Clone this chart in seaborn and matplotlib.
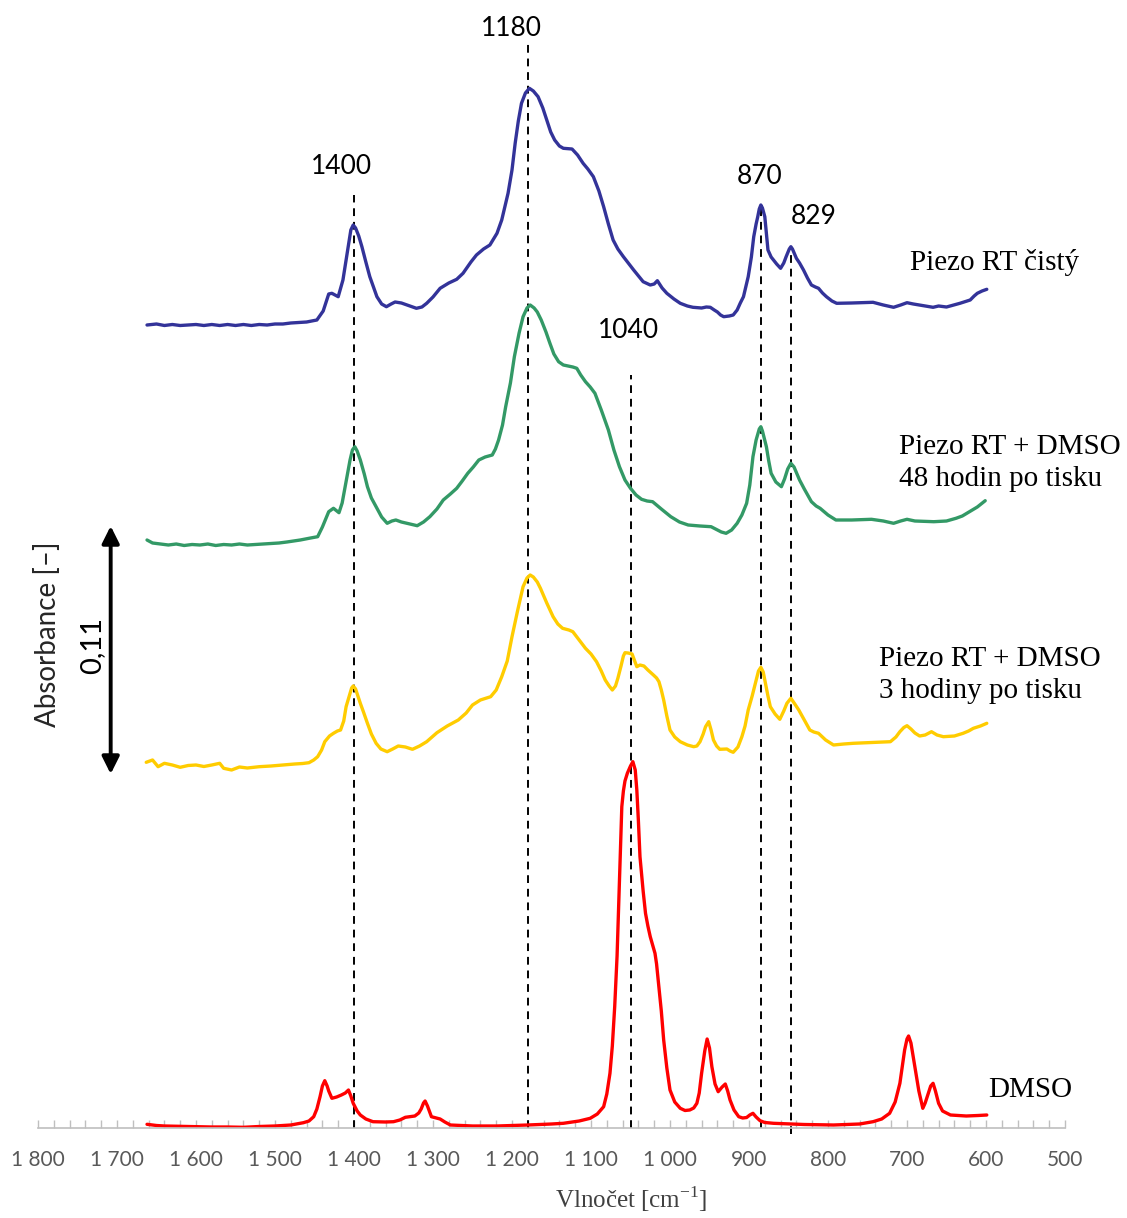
import numpy as np
import pandas as pd
import matplotlib
matplotlib.use("Agg")
import matplotlib.pyplot as plt
import seaborn as sns

# heights, in plot units (scale bar 0,11 = 240 units)
UNIT = 0.11 / 240

blue_wn = [
    1662, 1650, 1640, 1630, 1620, 1610, 1600, 1590, 1580, 1570,
    1560, 1550, 1540, 1530, 1520, 1510, 1500, 1490, 1480, 1470,
    1460, 1447, 1439, 1432, 1428, 1420, 1414, 1407, 1404, 1401,
    1398, 1394, 1390, 1385, 1380, 1371, 1365, 1359, 1353, 1348,
    1340, 1333, 1321, 1314, 1308, 1300, 1291, 1280, 1270, 1262,
    1252, 1245, 1236, 1228, 1219, 1213, 1205, 1200, 1196, 1192,
    1188, 1183, 1178, 1173, 1167, 1161, 1156, 1151, 1146, 1140,
    1135, 1124, 1117, 1110, 1104, 1097, 1090, 1084, 1078, 1072,
    1066, 1059, 1046, 1034, 1025, 1020, 1016, 1010, 1004, 995,
    987, 978, 971, 960, 954, 949, 944, 940, 936, 932,
    925, 920, 915, 911, 907, 901, 897, 894, 891, 889,
    887, 885, 883, 880, 878, 876, 872, 869, 865, 860,
    856, 853, 849, 847, 845, 840, 836, 831, 826, 821,
    816, 812, 807, 802, 795, 789, 770, 743, 730, 717,
    708, 700, 692, 684, 667, 660, 650, 633, 620, 615,
    611, 605, 599]
blue_h = [
    0, 1, -0.5, 0.5, -0.5, 0, 0.5, -0.5, 0.5, -0.5,
    0.5, -0.5, 0.5, -0.5, 0.5, 0, 1, 1, 2, 2.5,
    3, 5, 14, 31, 31.7, 28.3, 45, 80, 95, 100,
    97, 89, 78.3, 63, 48.3, 28.3, 21, 18.3, 21, 23,
    22, 20, 16.7, 18, 21.7, 28, 36.7, 42, 45.7, 51.7,
    63, 70, 76, 80, 91.7, 105, 131.7, 155, 181.7, 204,
    221.7, 232, 236.7, 234, 228.3, 217, 205, 193, 185, 179,
    176.7, 176, 170, 161.7, 156, 148.3, 134, 118.3, 101, 85,
    76, 68.3, 55, 43.3, 40, 41, 44.3, 37, 31.7, 26,
    21.7, 19, 17.7, 17, 18, 17.7, 15, 13, 10, 8.3,
    9, 10, 15, 22, 28.3, 48.3, 68, 88.3, 101, 108,
    116, 120, 117, 108.3, 92, 75, 68, 65, 61, 56.7,
    62, 68.3, 76, 78.3, 76, 66.7, 62, 55, 47, 40,
    38, 36.7, 32, 28.3, 24, 21.7, 22, 22.7, 20, 17.7,
    20, 22.3, 21, 20, 17.7, 19, 18, 21.7, 25, 29,
    31.7, 34, 35.7]

green_wn = [
    1662, 1655, 1645, 1635, 1625, 1615, 1605, 1595, 1585, 1575,
    1565, 1555, 1545, 1535, 1525, 1515, 1505, 1495, 1485, 1468,
    1455, 1446, 1440, 1432, 1426, 1419, 1415, 1412, 1408, 1405,
    1402, 1399, 1396, 1392, 1387, 1383, 1378, 1372, 1365, 1358,
    1352, 1347, 1340, 1333, 1320, 1312, 1304, 1295, 1287, 1278,
    1270, 1263, 1256, 1249, 1242, 1234, 1225, 1221, 1217, 1212,
    1208, 1202, 1197, 1191, 1186, 1181, 1177, 1172, 1168, 1163,
    1157, 1152, 1147, 1141, 1135, 1129, 1123, 1118, 1113, 1107,
    1101, 1095, 1087, 1078, 1071, 1064, 1057, 1050, 1043, 1036,
    1029, 1022, 1011, 999, 988, 977, 962, 948, 940, 935,
    929, 922, 915, 909, 903, 899, 895, 891, 887, 885,
    883, 878, 875, 872, 866, 859, 855, 851, 847, 843,
    836, 830, 821, 815, 810, 800, 790, 770, 745, 730,
    717, 708, 700, 690, 666, 650, 638, 630, 621, 611,
    601]
green_h = [
    5, 2, 1, 0, 1, -0.5, 0.5, 0, 1, -0.5,
    0.5, 0, 1, 0, 0.5, 1, 1.5, 2, 3, 5,
    7, 8.3, 18, 33.3, 36.7, 32.3, 42, 55, 72, 85,
    95, 98.3, 94, 85, 71, 58.3, 47, 38.3, 28, 21.7,
    24, 25, 23, 21.7, 19.3, 23, 28.3, 36, 45, 51,
    56.7, 64, 71.7, 78, 85, 88, 90, 96, 105, 120,
    138.3, 162, 188.3, 212, 228.3, 237, 240, 237, 233, 225,
    213, 201.7, 191, 183.3, 180, 179, 178, 176.7, 170, 163.3,
    158, 151.7, 135, 115, 95, 78.3, 65, 56.7, 50, 45.7,
    44, 43.3, 36, 28.3, 23, 20, 19, 18.3, 15, 13,
    11.7, 15, 21.7, 30, 41.7, 60, 88.3, 105, 116, 118.3,
    114, 98.3, 84, 71.7, 63, 58.3, 66, 76, 81.7, 78,
    65, 56, 43.3, 39, 36.7, 30, 25, 25, 25.7, 24,
    21.7, 24, 25.7, 24, 23.3, 24, 26.7, 29, 33.3, 38,
    44.3]

yellow_wn = [
    1663, 1655, 1648, 1640, 1630, 1620, 1610, 1600, 1590, 1580,
    1570, 1565, 1555, 1545, 1535, 1520, 1505, 1490, 1475, 1465,
    1457, 1451, 1446, 1441, 1437, 1431, 1426, 1421, 1417, 1413,
    1410, 1406, 1403, 1401, 1398, 1395, 1392, 1388, 1383, 1378,
    1372, 1366, 1358, 1351, 1344, 1335, 1326, 1317, 1308, 1295,
    1282, 1268, 1258, 1250, 1240, 1227, 1220, 1213, 1206, 1200,
    1193, 1186, 1181, 1177, 1173, 1168, 1164, 1156, 1148, 1142,
    1136, 1128, 1123, 1115, 1107, 1100, 1093, 1087, 1082, 1077,
    1073, 1069, 1066, 1062, 1059, 1057, 1053, 1048, 1042, 1038,
    1033, 1028, 1021, 1017, 1014, 1011, 1008, 1004, 1000, 994,
    987, 978, 970, 966, 962, 958, 955, 951, 948, 945,
    941, 937, 928, 924, 920, 914, 909, 905, 901, 896,
    892, 888, 885, 882, 880, 876, 873, 867, 861, 856,
    852, 847, 842, 837, 830, 823, 818, 812, 803, 793,
    780, 768, 745, 721, 714, 709, 704, 700, 695, 690,
    684, 677, 669, 662, 654, 640, 629, 622, 616, 607,
    599]
yellow_h = [
    3.7, 6, -0.7, 2.7, 1, -1.3, 0.5, 1, -0.5, 1,
    2.7, -2.3, -4, -1, -2, -0.7, 0, 1, 2, 2.5,
    3.3, 6, 9.3, 16, 24.3, 30, 32.7, 35, 36, 45,
    59.3, 70, 78, 80, 77, 70, 62.7, 54, 42.7, 32,
    22.7, 17, 14.3, 17, 20, 19, 16.7, 20, 24.3, 33.3,
    40, 46, 53, 61, 66, 69.3, 76, 89.3, 105, 129.3,
    155, 179.3, 188, 191, 189, 184, 177.7, 163, 149.3, 142,
    137.7, 136, 134.3, 126, 117.7, 112, 104.3, 95, 86, 80,
    76, 80, 87.7, 100, 110, 113.3, 113, 112, 99.3, 101,
    100, 96, 91, 88, 84.3, 76, 66, 50, 36, 29,
    24.3, 21, 19.3, 20, 24.3, 32, 39.3, 44.3, 36, 26,
    20, 16.7, 17, 15, 13.7, 19, 29.3, 40, 56, 70,
    82.7, 95, 98.7, 94, 86, 70, 59.3, 52, 46.7, 55,
    62.7, 67.7, 62, 56, 46, 36, 34, 32.7, 26, 21,
    22, 22.7, 23.5, 24.3, 29, 34.3, 38.5, 40.3, 37, 33,
    30, 31, 34.3, 31, 29.3, 30, 32.7, 35, 37.7, 40,
    42.7]

red_wn = [
    1662, 1650, 1640, 1620, 1600, 1580, 1560, 1540, 1520, 1500,
    1480, 1464, 1457, 1451, 1447, 1443, 1440, 1437, 1434, 1432,
    1428, 1422, 1416, 1411, 1407, 1404, 1401, 1396, 1392, 1385,
    1376, 1360, 1350, 1342, 1335, 1323, 1318, 1315, 1312, 1310,
    1307, 1302, 1296, 1291, 1285, 1278, 1250, 1219, 1180, 1150,
    1135, 1115, 1101, 1092, 1084, 1080, 1076, 1073, 1070, 1067,
    1065, 1063, 1061, 1059, 1057, 1054, 1050, 1047, 1044, 1042,
    1040, 1038, 1034, 1031, 1028, 1025, 1022, 1019, 1017, 1015,
    1011, 1008, 1004, 1000, 994, 987, 981, 975, 970, 966,
    963, 960, 956, 953, 950, 947, 943, 939, 934, 930,
    927, 924, 919, 913, 908, 903, 899, 895, 891, 886,
    880, 869, 830, 793, 760, 743, 732, 722, 715, 709,
    705, 703, 700, 698, 695, 690, 685, 680, 677, 673,
    670, 667, 664, 660, 655, 645, 625, 610, 599]
red_h = [
    1.7, 0.5, 0, -0.5, -0.7, -1, -1, -1.3, -0.5, 0,
    1, 3.3, 5, 9.3, 17, 29.3, 40, 45.3, 40, 35,
    27.7, 29, 31, 33, 36, 30, 22.7, 15, 11, 7,
    4.3, 4, 4.3, 6, 8.7, 10, 13, 17, 23, 25,
    20, 9.3, 8, 7, 4, 1, 0, 0, 1, 2,
    2.7, 5, 7.7, 12, 19.3, 32, 52.7, 80, 119.3, 170,
    219.3, 270, 319.3, 335, 345, 352.7, 360, 364.3, 356, 336,
    305, 269.3, 235, 212.7, 200, 189.3, 181, 172.7, 162, 146,
    115, 86, 58, 36, 24, 17.7, 15.5, 16, 18, 22.7,
    33, 52.7, 75, 87, 78, 59.3, 42, 34.3, 39, 42,
    35, 26, 16, 9.3, 8, 8.5, 11, 12.7, 9, 5.3,
    3.5, 2.7, 1.5, 1, 2, 4.3, 7, 12.7, 24, 42.7,
    65, 76, 87, 90, 83, 59.3, 35, 17.7, 23, 32.7,
    40, 42.7, 35, 22.7, 15, 11, 10, 10.5, 11]

series_names = ["Piezo RT čistý", "Piezo RT + DMSO\n48 hodin po tisku",
                "Piezo RT + DMSO\n3 hodiny po tisku", "DMSO"]
series_offsets = [801, 581, 360, 0]
series_colors = ["#333399", "#339966", "#FFCC00", "#FF0000"]

# dashed marker lines: position, top end (plot units)
peak_lines = [1400, 1180, 1049, 885, 847]
peak_line_tops = [931, 1086, 751, 921, 876]
peak_labels = ["1400", "1180", "1040", "870", "829"]

tick_values = [1800, 1700, 1600, 1500, 1400, 1300, 1200, 1100, 1000, 900, 800, 700, 600, 500]
tick_labels = ["1 800", "1 700", "1 600", "1 500", "1 400", "1 300", "1 200", "1 100",
               "1 000", "900", "800", "700", "600", "500"]

sns.set_theme(style="white")
plt.rcParams["font.family"] = ["Lato", "DejaVu Sans"]
plt.rcParams["mathtext.fontset"] = "custom"
plt.rcParams["mathtext.rm"] = "Liberation Serif"

frames = []
for name, wn, h, off in zip(series_names,
                            [blue_wn, green_wn, yellow_wn, red_wn],
                            [blue_h, green_h, yellow_h, red_h],
                            series_offsets):
    frames.append(pd.DataFrame({"wn": wn,
                                "A": (np.array(h) + off) * UNIT,
                                "series": name}))
df = pd.concat(frames, ignore_index=True)

fig = plt.figure(figsize=(11.27, 12.18), dpi=100)
ax = fig.add_axes([38 / 1127, 90 / 1218, 1027 / 1127, 1128 / 1218])

sns.lineplot(data=df, x="wn", y="A", hue="series", hue_order=series_names,
             palette=series_colors, estimator=None, legend=False, ax=ax,
             linewidth=2.4, solid_joinstyle="round", solid_capstyle="round")

ax.set_xlim(1800, 500)
ax.set_ylim(-2 * UNIT, 1126 * UNIT)

# dashed peak markers
for wn, top in zip(peak_lines, peak_line_tops):
    bottom = -8 if wn == 847 else -2
    ax.plot([wn, wn], [bottom * UNIT, top * UNIT], color="black", lw=1.4,
            ls=(0, (4, 3)), clip_on=False, zorder=1)

label_pos = [(1416, 959), (1201, 1098), (1053, 796), (887, 950), (818, 910)]
for lab, (x, y) in zip(peak_labels, label_pos):
    ax.text(x, y * UNIT, lab, ha="center", va="center", fontsize=19, color="black")

# series names
name_pos = [(696, 864), (710, 663), (735, 451), (597, 36)]
for name, (x, y) in zip(series_names, name_pos):
    ax.text(x, y * UNIT, name, ha="left", va="center", fontsize=21,
            family="Liberation Serif", color="black", linespacing=1.3)

# scale bar
ax.annotate("", xy=(1708, 600 * UNIT), xytext=(1708, 352 * UNIT),
            arrowprops=dict(arrowstyle="<|-|>", lw=2.8, color="black",
                            mutation_scale=26, shrinkA=0, shrinkB=0))
ax.text(1731, 481 * UNIT, "0,11", rotation=90, ha="center", va="center",
        fontsize=21, color="black")
ax.text(1788, 492 * UNIT, "Absorbance [–]", rotation=90, ha="center",
        va="center", fontsize=20, color="#262626", clip_on=False)

# axes styling
for side in ["left", "top", "right"]:
    ax.spines[side].set_visible(False)
ax.spines["bottom"].set_color("#BFBFBF")
ax.spines["bottom"].set_linewidth(1.2)
ax.set_yticks([])
ax.set_xticks(tick_values, labels=tick_labels)
ax.set_xticks(np.arange(500, 1801, 20), minor=True)
ax.tick_params(axis="x", which="both", direction="in", length=6, width=1,
               color="#BFBFBF", bottom=True)
ax.tick_params(axis="x", which="major", pad=16, labelsize=15, labelcolor="#595959")
ax.set_ylabel("")
ax.set_xlabel(r"Vlnočet [cm$^{\mathrm{-1}}$]", family="Liberation Serif",
              fontsize=18, color="#404040")
ax.xaxis.set_label_coords((631 - 38) / 1027, -56 / 1128)

fig.savefig("out.png", dpi=100)
